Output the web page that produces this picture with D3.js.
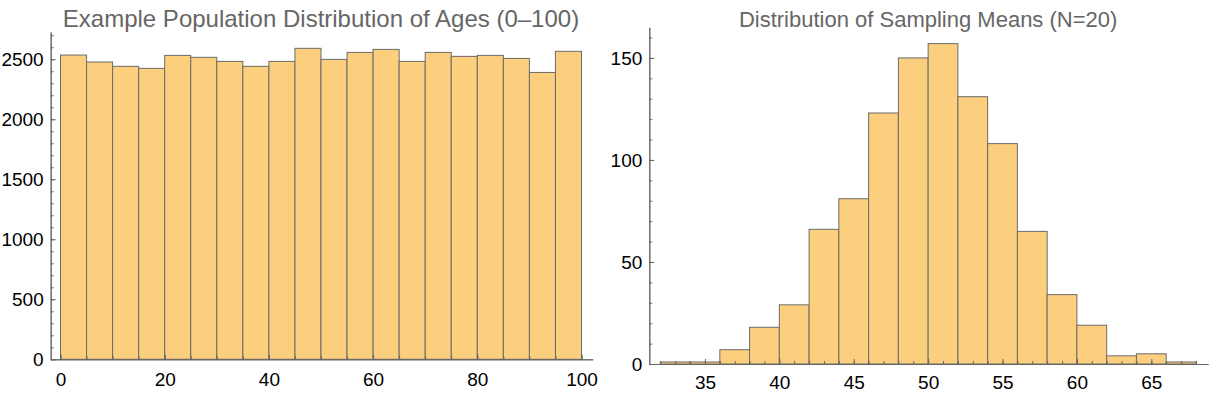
<!DOCTYPE html>
<html lang="en">
<head>
    <meta charset="UTF-8">
    <title>Histograms</title>
    <script src="https://d3js.org/d3.v7.min.js"></script>
    <style>
        body { margin: 0; background: #fff; }
        text { font-family: "Liberation Sans", Arial, sans-serif; }
    </style>
</head>
<body>
<script>
    // left histogram: population ages, bins of width 5
    var ageBins = [0, 5, 10, 15, 20, 25, 30, 35, 40, 45, 50, 55, 60, 65, 70, 75, 80, 85, 90, 95];
    var ageCounts = [2535, 2477, 2441, 2424, 2532, 2516, 2482, 2441, 2482, 2591,
                     2499, 2557, 2582, 2482, 2557, 2524, 2532, 2507, 2390, 2566];
    var ageXTicks = [0, 20, 40, 60, 80, 100];
    var ageYTicks = [0, 500, 1000, 1500, 2000, 2500];

    // right histogram: sampling means, bins of width 2
    var meanBins = [32, 34, 36, 38, 40, 42, 44, 46, 48, 50, 52, 54, 56, 58, 60, 62, 64, 66];
    var meanCounts = [1, 1, 7, 18, 29, 66, 81, 123, 150, 157, 131, 108, 65, 34, 19, 4, 5, 1];
    var meanXTicks = [35, 40, 45, 50, 55, 60, 65];
    var meanYTicks = [0, 50, 100, 150];

    var width = 1211, height = 397;
    var fill = "#fccf7f", edge = "#6b6b6b", axisColor = "#666";

    var svg = d3.select("body").append("svg")
        .attr("width", width)
        .attr("height", height);

    function panel(opts) {
        var x = d3.scaleLinear().domain(opts.xDomain).range(opts.xRange);
        var y = d3.scaleLinear().domain(opts.yDomain).range(opts.yRange);
        var g = svg.append("g");

        // title
        g.append("text")
            .attr("x", (x(opts.bins[0]) + x(opts.bins[opts.bins.length - 1] + opts.binWidth)) / 2)
            .attr("y", 27)
            .attr("text-anchor", "middle")
            .attr("font-size", opts.titleSize)
            .attr("fill", "#666")
            .text(opts.title);

        // bars
        g.selectAll("rect")
            .data(opts.counts)
            .enter()
            .append("rect")
            .attr("x", function(d, i) { return x(opts.bins[i]); })
            .attr("y", function(d) { return y(d); })
            .attr("width", function(d, i) { return x(opts.bins[i] + opts.binWidth) - x(opts.bins[i]); })
            .attr("height", function(d) { return y(0) - y(d); })
            .attr("fill", fill)
            .attr("stroke", edge)
            .attr("stroke-width", 1);

        var fmt = d3.format("d");

        // y axis: minor ticks, then major ticks with labels
        var yMinor = d3.range(0, opts.yDomain[1], opts.yMinorStep);
        g.append("g")
            .attr("transform", "translate(" + opts.xRange[0] + ",0)")
            .call(d3.axisLeft(y).tickValues(yMinor).tickSizeInner(-3).tickSizeOuter(0).tickFormat(""));
        g.append("g")
            .attr("transform", "translate(" + opts.xRange[0] + ",0)")
            .call(d3.axisLeft(y).tickValues(opts.yTicks).tickSizeInner(-5).tickSizeOuter(0)
                .tickPadding(7).tickFormat(fmt));

        // x axis
        var xMinor = d3.range(opts.xMinorFrom, opts.xMinorTo + 0.001, opts.xMinorStep);
        g.append("g")
            .attr("transform", "translate(0," + opts.yRange[0] + ")")
            .call(d3.axisBottom(x).tickValues(xMinor).tickSizeInner(-3).tickSizeOuter(0).tickFormat(""));
        g.append("g")
            .attr("transform", "translate(0," + opts.yRange[0] + ")")
            .call(d3.axisBottom(x).tickValues(opts.xTicks).tickSizeInner(-5).tickSizeOuter(0)
                .tickPadding(opts.xPad).tickFormat(fmt));

        g.selectAll(".domain, .tick line").attr("stroke", axisColor);
        g.selectAll(".tick text")
            .attr("font-size", 19)
            .attr("font-family", "Liberation Sans, Arial, sans-serif")
            .attr("fill", "#000");
    }

    panel({
        title: "Example Population Distribution of Ages (0\u2013100)", titleSize: 24,
        bins: ageBins, counts: ageCounts, binWidth: 5,
        xDomain: [-1.88, 102.15], xRange: [50.7, 592.7],
        yDomain: [0, 2727], yRange: [359.3, 32],
        xTicks: ageXTicks, yTicks: ageYTicks,
        yMinorStep: 100, xMinorFrom: 0, xMinorTo: 100, xMinorStep: 5,
        xPad: 13
    });

    panel({
        title: "Distribution of Sampling Means (N=20)", titleSize: 22,
        bins: meanBins, counts: meanCounts, binWidth: 2,
        xDomain: [31.26, 68.81], xRange: [649.3, 1208],
        yDomain: [0, 165], yRange: [364, 27.3],
        xTicks: meanXTicks, yTicks: meanYTicks,
        yMinorStep: 10, xMinorFrom: 32, xMinorTo: 68, xMinorStep: 1,
        xPad: 12
    });
</script>
</body>
</html>
